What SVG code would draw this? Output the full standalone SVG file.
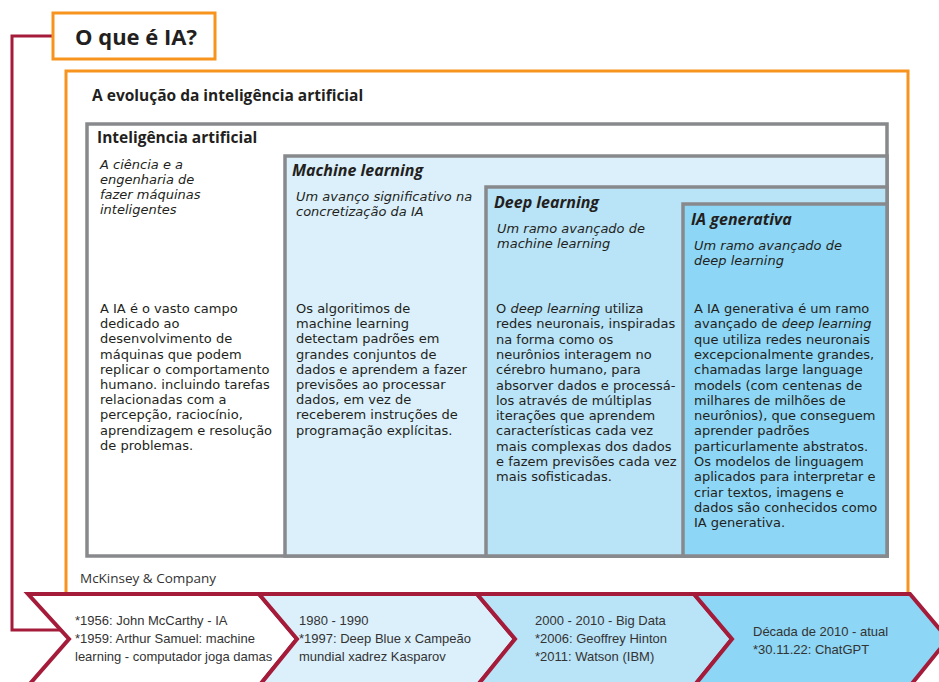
<svg xmlns="http://www.w3.org/2000/svg" width="939" height="682" viewBox="0 0 939 682">
  <style>
    .frame { fill: #ffffff; stroke: #f7941d; stroke-width: 3; }
    .box { stroke: #88898c; stroke-width: 3.5; }
    .link { fill: none; stroke: #a51c3b; stroke-width: 3; }
    .chev { stroke: #a51c3b; stroke-width: 4; stroke-linejoin: miter; }
    .t { font-family: "Open Sans", "Liberation Sans", sans-serif; fill: #231f20; }
    .title { font-size: 22px; font-weight: bold; }
    .h1 { font-size: 15.5px; font-weight: bold; }
    .h2 { font-size: 16px; font-weight: bold; font-style: italic; }
    .desc { font-family: "DejaVu Sans", "Liberation Sans", sans-serif; font-size: 13px; font-style: italic; }
    .body { font-family: "DejaVu Sans", "Liberation Sans", sans-serif; font-size: 13px; }
    .tl { font-family: "Liberation Sans", "Open Sans", sans-serif; font-size: 13px; fill: #333333; }
    .src { font-size: 13.5px; fill: #333333; }
  </style>

  <rect width="939" height="682" fill="#ffffff"/>

  <!-- connectors -->
  <g id="connectors">
    <polyline class="link" points="52,36 12,36 12,630 62,630"/>
  </g>

  <!-- title -->
  <g id="title">
    <rect class="frame" x="53" y="13" width="162" height="46"/>
    <text class="t title" x="75" y="45">O que é IA?</text>
  </g>

  <!-- main panel -->
  <g id="panel">
    <rect class="frame" x="66" y="71" width="842" height="530"/>
    <text class="t h1" x="92" y="101">A evolução da inteligência artificial</text>
    <text class="t src" x="80" y="583">McKinsey &amp; Company</text>
  </g>

  <!-- nested boxes -->
  <g id="ai">
    <rect class="box" x="87" y="124" width="800" height="432" fill="#ffffff"/>
    <text class="t h1" x="97" y="143">Inteligência artificial</text>
    <text class="t desc">
      <tspan x="100" y="168.5">A ciência e a</tspan>
      <tspan x="100" y="183.7">engenharia de</tspan>
      <tspan x="100" y="198.9">fazer máquinas</tspan>
      <tspan x="100" y="214.1">inteligentes</tspan>
    </text>
    <text class="t body">
      <tspan x="100" y="313">A IA é o vasto campo</tspan>
      <tspan x="100" y="328.2">dedicado ao</tspan>
      <tspan x="100" y="343.4">desenvolvimento de</tspan>
      <tspan x="100" y="358.6">máquinas que podem</tspan>
      <tspan x="100" y="373.8">replicar o comportamento</tspan>
      <tspan x="100" y="389">humano. incluindo tarefas</tspan>
      <tspan x="100" y="404.2">relacionadas com a</tspan>
      <tspan x="100" y="419.4">percepção, raciocínio,</tspan>
      <tspan x="100" y="434.6">aprendizagem e resolução</tspan>
      <tspan x="100" y="449.8">de problemas.</tspan>
    </text>
  </g>

  <g id="ml">
    <rect class="box" x="285" y="156" width="602" height="400" fill="#dbf0fb"/>
    <text class="t h2" x="292" y="176">Machine learning</text>
    <text class="t desc">
      <tspan x="296" y="200.5">Um avanço significativo na</tspan>
      <tspan x="296" y="215.7">concretização da IA</tspan>
    </text>
    <text class="t body">
      <tspan x="296" y="313">Os algoritimos de</tspan>
      <tspan x="296" y="328.2">machine learning</tspan>
      <tspan x="296" y="343.4">detectam padrões em</tspan>
      <tspan x="296" y="358.6">grandes conjuntos de</tspan>
      <tspan x="296" y="373.8">dados e aprendem a fazer</tspan>
      <tspan x="296" y="389">previsões ao processar</tspan>
      <tspan x="296" y="404.2">dados, em vez de</tspan>
      <tspan x="296" y="419.4">receberem instruções de</tspan>
      <tspan x="296" y="434.6">programação explícitas.</tspan>
    </text>
  </g>

  <g id="dl">
    <rect class="box" x="486" y="187" width="401" height="369" fill="#b9e3f7"/>
    <text class="t h2" x="494" y="208">Deep learning</text>
    <text class="t desc">
      <tspan x="497" y="232.5">Um ramo avançado de</tspan>
      <tspan x="497" y="247.7">machine learning</tspan>
    </text>
    <text class="t body">
      <tspan x="496" y="313">O <tspan font-style="italic">deep learning</tspan> utiliza</tspan>
      <tspan x="496" y="328.3">redes neuronais, inspiradas</tspan>
      <tspan x="496" y="343.6">na forma como os</tspan>
      <tspan x="496" y="358.9">neurônios interagem no</tspan>
      <tspan x="496" y="374.2">cérebro humano, para</tspan>
      <tspan x="496" y="389.5">absorver dados e processá-</tspan>
      <tspan x="496" y="404.8">los através de múltiplas</tspan>
      <tspan x="496" y="420.1">iterações que aprendem</tspan>
      <tspan x="496" y="435.4">características cada vez</tspan>
      <tspan x="496" y="450.7">mais complexas dos dados</tspan>
      <tspan x="496" y="466">e fazem previsões cada vez</tspan>
      <tspan x="496" y="481.3">mais sofisticadas.</tspan>
    </text>
  </g>

  <g id="genai">
    <rect class="box" x="683" y="204" width="204" height="352" fill="#8dd6f5"/>
    <text class="t h2" x="691" y="225">IA generativa</text>
    <text class="t desc">
      <tspan x="694" y="249.5">Um ramo avançado de</tspan>
      <tspan x="694" y="264.7">deep learning</tspan>
    </text>
    <text class="t body">
      <tspan x="694" y="313">A IA generativa é um ramo</tspan>
      <tspan x="694" y="328.3">avançado de <tspan font-style="italic">deep learning</tspan></tspan>
      <tspan x="694" y="343.6">que utiliza redes neuronais</tspan>
      <tspan x="694" y="358.9">excepcionalmente grandes,</tspan>
      <tspan x="694" y="374.2">chamadas large language</tspan>
      <tspan x="694" y="389.5">models (com centenas de</tspan>
      <tspan x="694" y="404.8">milhares de milhões de</tspan>
      <tspan x="694" y="420.1">neurônios), que conseguem</tspan>
      <tspan x="694" y="435.4">aprender padrões</tspan>
      <tspan x="694" y="450.7">particurlamente abstratos.</tspan>
      <tspan x="694" y="466">Os modelos de linguagem</tspan>
      <tspan x="694" y="481.3">aplicados para interpretar e</tspan>
      <tspan x="694" y="496.6">criar textos, imagens e</tspan>
      <tspan x="694" y="511.9">dados são conhecidos como</tspan>
      <tspan x="694" y="527.2">IA generativa.</tspan>
    </text>
  </g>

  <!-- timeline chevrons -->
  <g id="era-1950">
    <polygon class="chev" fill="#ffffff" points="28,594 259,594 297,639 259,686 28,686 69,639"/>
    <text class="tl">
      <tspan x="75" y="625">*1956: John McCarthy - IA</tspan>
      <tspan x="75" y="643">*1959: Arthur Samuel: machine</tspan>
      <tspan x="75" y="661">learning - computador joga damas</tspan>
    </text>
  </g>
  <g id="era-1980">
    <polygon class="chev" fill="#dbf0fb" points="259,594 477,594 515,639 477,686 259,686 297,639"/>
    <text class="tl">
      <tspan x="299" y="625">1980 - 1990</tspan>
      <tspan x="299" y="643">*1997: Deep Blue x Campeão</tspan>
      <tspan x="299" y="661">mundial xadrez Kasparov</tspan>
    </text>
  </g>
  <g id="era-2000">
    <polygon class="chev" fill="#b9e3f7" points="477,594 694,594 732,639 694,686 477,686 515,639"/>
    <text class="tl">
      <tspan x="535" y="625">2000 - 2010 - Big Data</tspan>
      <tspan x="535" y="643">*2006: Geoffrey Hinton</tspan>
      <tspan x="535" y="661">*2011: Watson (IBM)</tspan>
    </text>
  </g>
  <g id="era-2010">
    <polygon class="chev" fill="#8dd6f5" points="694,594 910,594 948,639 910,686 694,686 732,639"/>
    <text class="tl">
      <tspan x="753" y="636">Década de 2010 - atual</tspan>
      <tspan x="753" y="654">*30.11.22: ChatGPT</tspan>
    </text>
  </g>
</svg>
